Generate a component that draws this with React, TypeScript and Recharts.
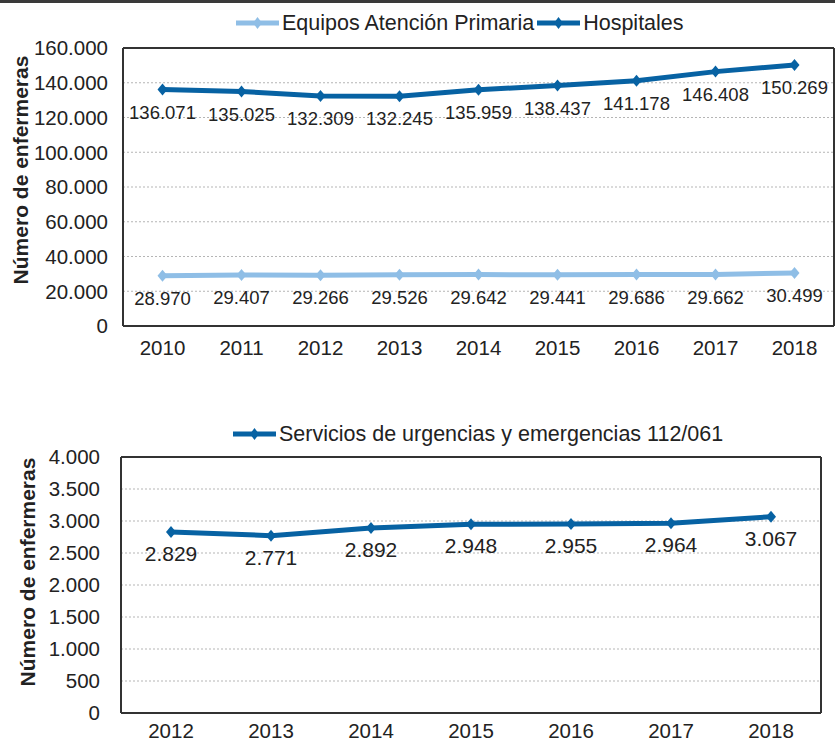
import {
  LineChart,
  Line,
  XAxis,
  YAxis,
  CartesianGrid,
  Legend,
  LabelList,
  Label,
} from 'recharts'

const years = ['2010', '2011', '2012', '2013', '2014', '2015', '2016', '2017', '2018']
const primaria = [28970, 29407, 29266, 29526, 29642, 29441, 29686, 29662, 30499]
const hospitales = [136071, 135025, 132309, 132245, 135959, 138437, 141178, 146408, 150269]
const topTicks = [0, 20000, 40000, 60000, 80000, 100000, 120000, 140000, 160000]

const urgYears = ['2012', '2013', '2014', '2015', '2016', '2017', '2018']
const urgencias = [2829, 2771, 2892, 2948, 2955, 2964, 3067]
const bottomTicks = [0, 500, 1000, 1500, 2000, 2500, 3000, 3500, 4000]

const DARK = '#0762a3'
const LIGHT = '#8fbee6'
const TEXT = '#222'
const FONT = '"Liberation Sans", Arial, sans-serif'

const fmt = (v: number) => String(v).replace(/\B(?=(\d{3})+(?!\d))/g, '.')

const topData = years.map((year, i) => ({
  year,
  primaria: primaria[i],
  hospitales: hospitales[i],
}))
const bottomData = urgYears.map((year, i) => ({ year, urgencias: urgencias[i] }))

const diamond = (color: string) => (props: any) => {
  const { cx, cy, index } = props
  if (cx == null || cy == null) return <g key={index} />
  return (
    <path
      key={index}
      d={`M${cx},${cy - 6}L${cx + 5},${cy}L${cx},${cy + 6}L${cx - 5},${cy}Z`}
      fill={color}
    />
  )
}

const renderLegend = (props: any) => (
  <div style={{ display: 'flex', alignItems: 'center', fontSize: 21.5, color: TEXT, lineHeight: '24px', whiteSpace: 'nowrap' }}>
    {(props.payload || []).map((entry: any) => (
      <span key={entry.value} style={{ display: 'flex', alignItems: 'center', marginRight: 3 }}>
        <svg width={43} height={14}>
          <line x1={0} y1={7} x2={43} y2={7} stroke={entry.color} strokeWidth={5} />
          <path d="M21.5,1L26,7L21.5,13L17,7Z" fill={entry.color} />
        </svg>
        <span style={{ marginLeft: 3 }}>{entry.value}</span>
      </span>
    ))}
  </div>
)

const yTitle = (x: number, y: number) => () => (
  <text
    x={x}
    y={y}
    transform={`rotate(-90 ${x} ${y})`}
    textAnchor="middle"
    fontSize={21}
    fontWeight="bold"
    fill={TEXT}
    fontFamily={FONT}
  >
    Número de enfermeras
  </text>
)

const frameH = ({ offset }: any) => [offset.top]
const frameV = ({ offset }: any) => [offset.left + offset.width]

export default function App() {
  return (
    <div style={{ position: 'relative', width: 835, height: 743, fontFamily: FONT, background: '#fff' }}>
      <style>{`body{margin:0}`}</style>
      <div style={{ position: 'absolute', top: 0, left: 0, width: 835, height: 3, background: '#3a3a3a' }} />

      <div style={{ position: 'absolute', top: 0, left: 0 }}>
        <LineChart width={835} height={370} data={topData} margin={{ top: 48, right: 1, bottom: 14, left: 0 }}>
          <CartesianGrid vertical={false} strokeDasharray="2 2" stroke="#b5b5b5" />
          <CartesianGrid
            stroke="#333"
            strokeWidth={2}
            horizontalCoordinatesGenerator={frameH}
            verticalCoordinatesGenerator={frameV}
          />
          <XAxis
            dataKey="year"
            padding={{ left: 39.5, right: 39.5 }}
            tickLine={false}
            tickSize={0}
            tickMargin={14}
            height={30}
            axisLine={{ stroke: '#333', strokeWidth: 2 }}
            tick={{ fill: TEXT, fontSize: 20.5 }}
          />
          <YAxis
            width={123}
            domain={[0, 160000]}
            ticks={topTicks}
            tickFormatter={fmt}
            tickLine={false}
            tickSize={0}
            tickMargin={15}
            axisLine={{ stroke: '#333', strokeWidth: 2 }}
            tick={{ fill: TEXT, fontSize: 20.5 }}
          >
            <Label content={yTitle(28, 170)} />
          </YAxis>
          <Legend
            layout="horizontal"
            verticalAlign="middle"
            align="center"
            content={renderLegend}
            wrapperStyle={{ top: 11, left: 236, width: 'auto' }}
          />
          <Line
            name="Equipos Atención Primaria"
            dataKey="primaria"
            stroke={LIGHT}
            fill={LIGHT}
            strokeWidth={5}
            dot={diamond(LIGHT)}
            activeDot={false}
            isAnimationActive={false}
          >
            <LabelList dataKey="primaria" position="bottom" offset={16} formatter={fmt as any} fill={TEXT} fontSize={18.5} />
          </Line>
          <Line
            name="Hospitales"
            dataKey="hospitales"
            stroke={DARK}
            fill={DARK}
            strokeWidth={5}
            dot={diamond(DARK)}
            activeDot={false}
            isAnimationActive={false}
          >
            <LabelList dataKey="hospitales" position="bottom" offset={16} formatter={fmt as any} fill={TEXT} fontSize={18.5} />
          </Line>
        </LineChart>
      </div>

      <div style={{ position: 'absolute', top: 400, left: 0 }}>
        <LineChart width={835} height={343} data={bottomData} margin={{ top: 57, right: 14, bottom: 0, left: 0 }}>
          <CartesianGrid vertical={false} strokeDasharray="2 2" stroke="#b5b5b5" />
          <CartesianGrid
            stroke="#333"
            strokeWidth={2}
            horizontalCoordinatesGenerator={frameH}
            verticalCoordinatesGenerator={frameV}
          />
          <XAxis
            dataKey="year"
            padding={{ left: 50, right: 50 }}
            tickLine={false}
            tickSize={0}
            tickMargin={10}
            height={30}
            axisLine={{ stroke: '#333', strokeWidth: 2 }}
            tick={{ fill: TEXT, fontSize: 20.5 }}
          />
          <YAxis
            width={121}
            domain={[0, 4000]}
            ticks={bottomTicks}
            tickFormatter={fmt}
            tickLine={false}
            tickSize={0}
            tickMargin={21}
            axisLine={{ stroke: '#333', strokeWidth: 2 }}
            tick={{ fill: TEXT, fontSize: 20.5 }}
          >
            <Label content={yTitle(35, 172)} />
          </YAxis>
          <Legend
            layout="horizontal"
            verticalAlign="middle"
            align="center"
            content={renderLegend}
            wrapperStyle={{ top: 22, left: 233, width: 'auto' }}
          />
          <Line
            name="Servicios de urgencias y emergencias 112/061"
            dataKey="urgencias"
            stroke={DARK}
            fill={DARK}
            strokeWidth={5}
            dot={diamond(DARK)}
            activeDot={false}
            isAnimationActive={false}
          >
            <LabelList dataKey="urgencias" position="bottom" offset={14} formatter={fmt as any} fill={TEXT} fontSize={21} />
          </Line>
        </LineChart>
      </div>
    </div>
  )
}
